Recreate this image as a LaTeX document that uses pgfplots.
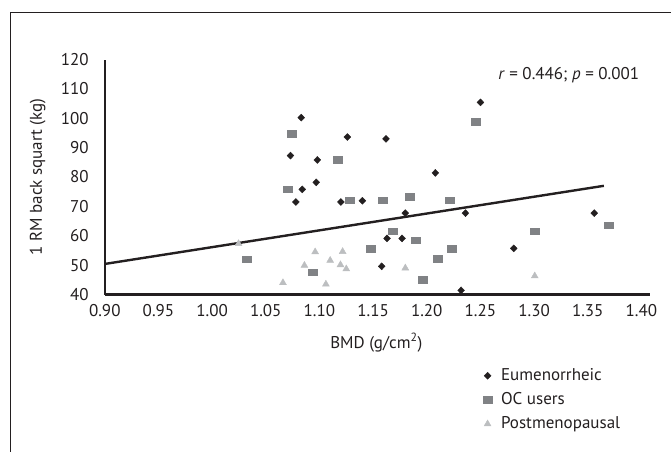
\documentclass[border=0pt]{standalone}
\usepackage{pgfplots}
\pgfplotsset{compat=1.18}
\usepackage{fontspec}
\setmainfont{PT Sans}
\definecolor{txt}{HTML}{231F20}
\definecolor{ocg}{HTML}{808285}
\definecolor{pmg}{HTML}{BCBEC0}
\begin{document}
\fontsize{17bp}{20bp}\selectfont
\begin{tikzpicture}
\useasboundingbox (0,0) rectangle (671bp,452bp);
\draw[txt, line width=1.5bp] (10.5bp,-20bp) -- (10.5bp,439.5bp) -- (700bp,439.5bp);
\begin{axis}[
  at={(104.8bp,157.5bp)}, anchor=south west,
  scale only axis, width=545.2bp, height=235bp,
  xmin=0.9, xmax=1.408, ymin=40, ymax=120,
  axis lines=left, axis line style={line width=2bp, txt, -},
  major tick length=0pt,
  xtick={0.90,0.95,1.00,1.05,1.10,1.15,1.20,1.25,1.30,1.35,1.40},
  xticklabels={0.90,0.95,1.00,1.05,1.10,1.15,1.20,1.25,1.30,1.35,1.40},
  ytick={40,50,60,70,80,90,100,110,120},
  yticklabels={40,50,60,70,80,90,100,110,120},
  xticklabel style={anchor=north, inner sep=0pt, yshift=-10bp, txt},
  yticklabel style={anchor=east, inner sep=0pt, xshift=-16bp, txt},
  tick label style={font=\fontsize{17bp}{20bp}\selectfont},
  label style={font=\fontsize{17bp}{20bp}\selectfont, txt},
  xlabel={BMD (g/cm\textsuperscript{2})},
  ylabel={1 RM back squart (kg)},
  xlabel style={at={(axis description cs:0.498,-0.205)}, anchor=center},
  ylabel style={at={(axis description cs:-0.123,0.5)}, anchor=center},
  clip=false,
  legend style={draw=none, fill=none, at={(axis description cs:0.688,-0.297)}, anchor=north west,
    font=\fontsize{17bp}{20bp}\selectfont, text=txt, row sep=5.5bp, column sep=7bp},
  legend cell align=left,
]
\addplot[forget plot, txt, line width=2.4bp] coordinates {(0.90,50.4) (1.365,77.0)};
\addplot[only marks, mark=diamond*, mark size=3.5bp, color=txt, mark options={xscale=1.3}] coordinates {
(1.083,100.2)(1.073,87.3)(1.098,85.8)(1.097,78.2)(1.084,75.8)(1.078,71.5)(1.126,93.6)(1.162,93.0)(1.120,71.5)(1.140,71.9)(1.180,67.7)(1.208,81.4)(1.163,59.1)(1.177,59.1)(1.158,49.6)(1.236,67.7)(1.250,105.4)(1.232,41.4)(1.281,55.7)(1.356,67.7)};
\addplot[only marks, mark=square*, mark size=3.35bp, color=ocg, mark options={xscale=1.34}] coordinates {
(1.0745,94.7)(1.070,75.8)(1.117,85.8)(1.128,72.1)(1.159,72.1)(1.184,73.2)(1.2215,72.1)(1.246,98.8)(1.168,61.5)(1.1895,58.5)(1.148,55.7)(1.223,55.7)(1.210,52.3)(1.196,45.1)(1.094,47.6)(1.0326,52.0)(1.301,61.5)(1.3696,63.6)};
\addplot[only marks, mark=triangle*, mark size=4bp, color=pmg] coordinates {
(1.0246,57.3)(1.066,44.0)(1.086,49.9)(1.096,54.5)(1.110,51.6)(1.106,43.5)(1.1196,50.1)(1.1216,54.6)(1.125,48.7)(1.180,49.0)(1.3006,46.3)};
\legend{Eumenorrheic, OC users, Postmenopausal}
\node[anchor=east, inner sep=0pt, txt] at (axis cs:1.398,114.6) {\textit{r} = 0.446; \textit{p} = 0.001};
\end{axis}
\end{tikzpicture}
\end{document}
